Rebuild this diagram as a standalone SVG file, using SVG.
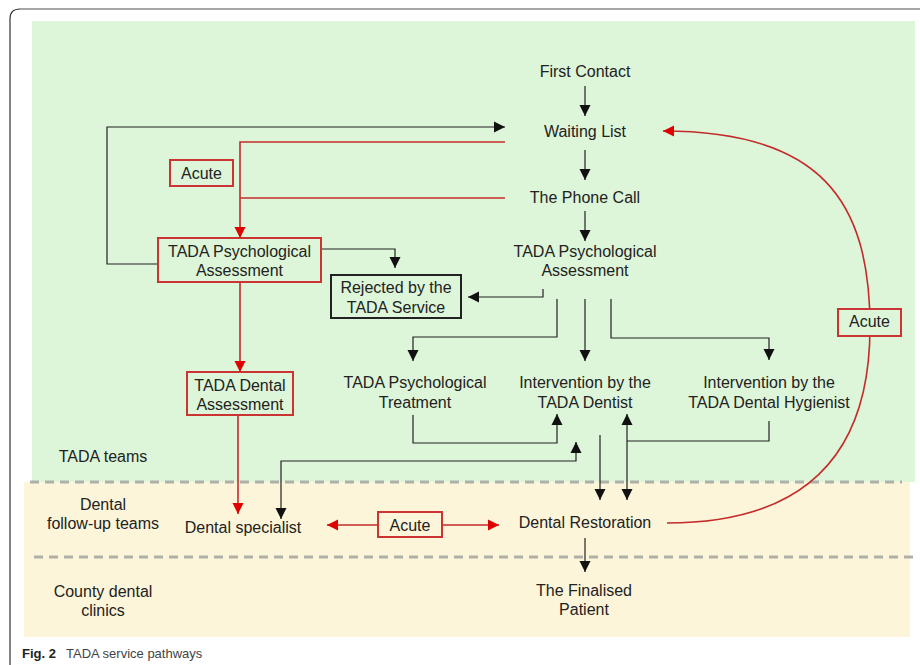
<svg xmlns="http://www.w3.org/2000/svg" width="920" height="665" viewBox="0 0 920 665">
<defs>
<style>
text{font-family:"Liberation Sans",Arial,sans-serif;font-size:16px;fill:#222;text-anchor:middle}
.cap{font-size:13px;text-anchor:start}
.blk{fill:none;stroke:#222;stroke-width:1.2}
.red{fill:none;stroke:#c42b2b;stroke-width:1.6}
.rbox{fill:#ddf5d8;stroke:#cc3333;stroke-width:2}
.rboxy{fill:#fcf5d9;stroke:#cc3333;stroke-width:2}
.kbox{fill:#ddf5d8;stroke:#222;stroke-width:2}
.dash{stroke:#b0b0a8;stroke-width:3;stroke-dasharray:9 6;fill:none}
</style>
<marker id="ak" markerUnits="userSpaceOnUse" markerWidth="11" markerHeight="12" refX="11" refY="5.5" orient="auto-start-reverse" viewBox="0 0 11 11"><path d="M0,0 L11,5.5 L0,11 z" fill="#111"/></marker>
<marker id="ar" markerUnits="userSpaceOnUse" markerWidth="11" markerHeight="12" refX="11" refY="5.5" orient="auto-start-reverse" viewBox="0 0 11 11"><path d="M0,0 L11,5.5 L0,11 z" fill="#e00000"/></marker>
</defs>
<rect width="920" height="665" fill="#fff"/>
<path d="M10,665 V19 Q10,9 20,9" fill="none" stroke="#333" stroke-width="1.2"/>
<path d="M20,9 H920" fill="none" stroke="#888" stroke-width="1.5"/>
<g id="lanes">
<rect x="32" y="21" width="883" height="461" fill="#ddf5d8"/>
<rect x="24" y="482" width="886" height="155" fill="#fcf5d9"/>
<line class="dash" x1="30" y1="482" x2="902" y2="482"/>
<line class="dash" x1="34" y1="557" x2="916" y2="557"/>
<text x="103" y="462">TADA teams</text>
<text x="103" y="510">Dental</text>
<text x="103" y="529">follow-up teams</text>
<text x="103" y="597">County dental</text>
<text x="103" y="616">clinics</text>
</g>
<g id="connectors">
<path class="blk" d="M585,86 V116" marker-end="url(#ak)"/>
<path class="blk" d="M585,150 V180" marker-end="url(#ak)"/>
<path class="blk" d="M585,211 V241" marker-end="url(#ak)"/>
<path class="blk" d="M158,264 H107 V127 H505" marker-end="url(#ak)"/>
<path class="blk" d="M321,249 H395 V268" marker-end="url(#ak)"/>
<path class="blk" d="M543,289 V297 H468" marker-end="url(#ak)"/>
<path class="blk" d="M557,299 V337 H413 V361" marker-end="url(#ak)"/>
<path class="blk" d="M585,299 V361" marker-end="url(#ak)"/>
<path class="blk" d="M611,299 V338 H769 V360" marker-end="url(#ak)"/>
<path class="blk" d="M413,415 V443 H557 V414" marker-end="url(#ak)"/>
<path class="blk" d="M281,519 V461 H576 V442" marker-start="url(#ak)" marker-end="url(#ak)"/>
<path class="blk" d="M600,435 V500" marker-end="url(#ak)"/>
<path class="blk" d="M627,414 V500" marker-start="url(#ak)" marker-end="url(#ak)"/>
<path class="blk" d="M769,421 V441 H627"/>
<path class="blk" d="M585,538 V572" marker-end="url(#ak)"/>
<path class="red" d="M505,142 H240 V238" marker-end="url(#ar)"/>
<path class="red" d="M505,198 H240"/>
<path class="red" d="M240,282 V372" marker-end="url(#ar)"/>
<path class="red" d="M238,416 V514" marker-end="url(#ar)"/>
<path class="red" d="M378,525 H327" marker-end="url(#ar)"/>
<path class="red" d="M442,525 H499" marker-end="url(#ar)"/>
<path class="red" d="M667,523 C810,523 870,450 870,327 C870,200 820,131 663,131" marker-end="url(#ar)"/>
</g>
<g id="first-contact"><text x="585" y="77">First Contact</text></g>
<g id="waiting-list"><text x="585" y="137">Waiting List</text></g>
<g id="phone-call"><text x="585" y="203">The Phone Call</text></g>
<g id="psych-assessment"><text x="585" y="257">TADA Psychological</text><text x="585" y="276">Assessment</text></g>
<g id="acute-top"><rect class="rbox" x="170" y="160" width="63" height="26"/><text x="201.5" y="179">Acute</text></g>
<g id="psych-assessment-acute"><rect class="rbox" x="158" y="238" width="163" height="44"/><text x="239.5" y="257">TADA Psychological</text><text x="239.5" y="276">Assessment</text></g>
<g id="rejected"><rect class="kbox" x="331" y="275" width="130" height="43"/><text x="396" y="293">Rejected by the</text><text x="396" y="313">TADA Service</text></g>
<g id="dental-assessment"><rect class="rbox" x="187" y="372" width="106" height="43"/><text x="240" y="391">TADA Dental</text><text x="240" y="410">Assessment</text></g>
<g id="psych-treatment"><text x="415" y="388">TADA Psychological</text><text x="415" y="408">Treatment</text></g>
<g id="dentist"><text x="585" y="388">Intervention by the</text><text x="585" y="408">TADA Dentist</text></g>
<g id="hygienist"><text x="769" y="388">Intervention by the</text><text x="769" y="408">TADA Dental Hygienist</text></g>
<g id="acute-right"><rect class="rbox" x="838" y="309" width="63" height="27"/><text x="869.5" y="327">Acute</text></g>
<g id="dental-specialist"><text x="243" y="533">Dental specialist</text></g>
<g id="acute-bottom"><rect class="rboxy" x="378" y="512" width="64" height="25"/><text x="410" y="531">Acute</text></g>
<g id="dental-restoration"><text x="585" y="528">Dental Restoration</text></g>
<g id="finalised"><text x="584" y="596">The Finalised</text><text x="584" y="615">Patient</text></g>
<g id="caption"><text class="cap" x="22" y="658" style="font-weight:bold">Fig. 2</text><text class="cap" x="66" y="658" style="fill:#444">TADA service pathways</text></g>
</svg>
